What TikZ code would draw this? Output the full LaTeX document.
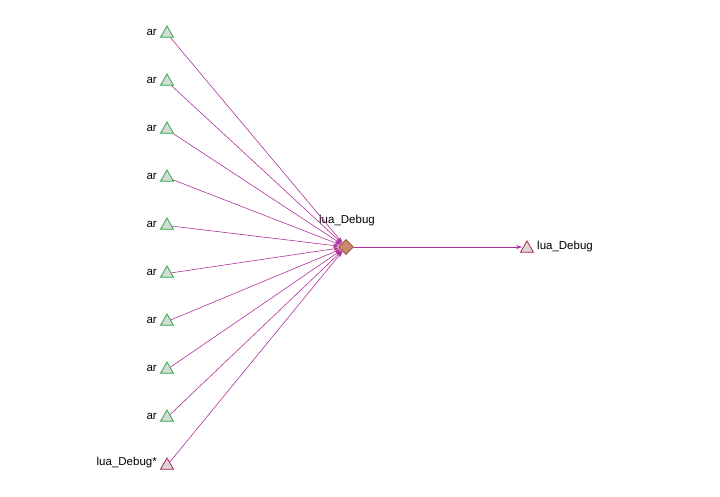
\documentclass[tikz,border=0pt]{standalone}
\usepackage{fontspec}
\setmainfont{Liberation Sans}
\usetikzlibrary{shapes.geometric,arrows.meta}
\definecolor{edgec}{HTML}{B0309A}
\definecolor{trifill}{HTML}{D8D8D8}
\definecolor{grn}{HTML}{20B040}
\definecolor{red2}{HTML}{B02050}
\definecolor{dfill}{HTML}{C98A70}
\definecolor{dborder}{HTML}{8A4A30}
\tikzset{
  tri/.style={regular polygon,regular polygon sides=3,fill=trifill,draw=#1,line width=0.8pt,minimum size=15pt,inner sep=0pt},
  dia/.style={diamond,fill=dfill,draw=dborder,line width=0.6pt,minimum size=15pt,inner sep=0pt},
  lbl/.style={font=\fontsize{11.5}{13}\selectfont,inner sep=1pt},
  edge/.style={draw=edgec,line width=0.6pt,-{Stealth[length=6pt,width=4pt]}}
}
\begin{document}
\begin{tikzpicture}[x=1pt,y=-1pt]
\useasboundingbox (0,0) rectangle (720,496);
\foreach \i/\y in {1/32,2/80,3/128,4/176,5/224,6/272,7/320,8/368,9/416}{
  \node[tri=grn] (t\i) at (167,\y+1.5) {};
  \node[lbl,anchor=east] (l\i) at (158,\y) {ar};
}
\node[tri=red2] (t10) at (167,465.5) {};
\node[lbl,anchor=east] (l10) at (158,463) {lua\_Debug*};
\node[dia] (d) at (346,247) {};
\node[lbl] (dl) at (347,221) {lua\_Debug};
\node[tri=red2] (r) at (527,248.5) {};
\node[lbl,anchor=west] (rl) at (536,247) {lua\_Debug};
\foreach \i in {1,...,10}{
  \draw[edge] (t\i) -- (d);
}
\draw[edge] (d.east) -- (d.east -| r.west);
\end{tikzpicture}
\end{document}
